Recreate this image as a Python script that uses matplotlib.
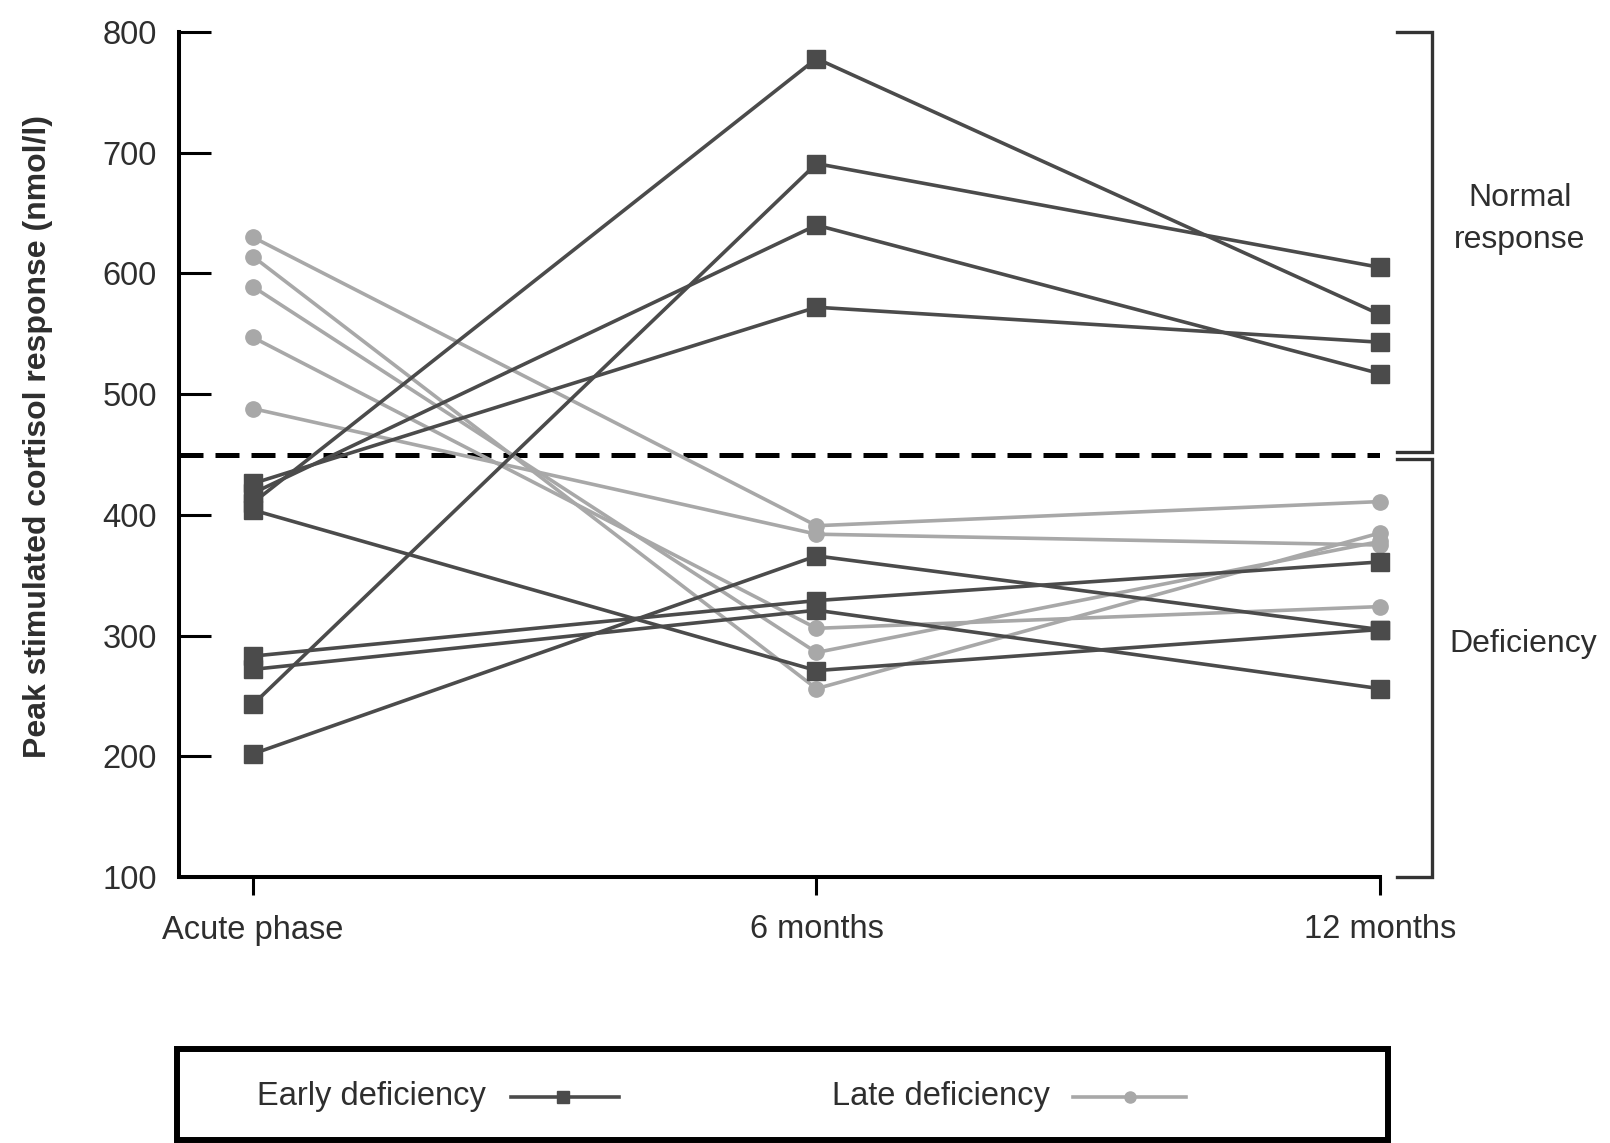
import matplotlib
matplotlib.use("Agg")
import matplotlib.pyplot as plt
from matplotlib.lines import Line2D
from matplotlib.patches import Rectangle
import matplotlib.transforms as mtransforms

plt.rcParams['font.family'] = ['Liberation Sans', 'DejaVu Sans']

# time points and cut-off
timepoints = ['Acute phase', '6 months', '12 months']
cutoff = 450

# peak stimulated cortisol (nmol/l) per patient: acute, 6 months, 12 months
early = [
    [410, 778, 566],
    [243, 691, 605],
    [418, 640, 517],
    [426, 572, 543],
    [404, 271, 305],
    [202, 366, 305],
    [283, 329, 361],
    [272, 321, 256],
]
late = [
    [630, 391, 411],
    [488, 384, 375],
    [547, 306, 324],
    [589, 286, 378],
    [614, 256, 385],
]

dark = '#4b4b4b'
light = '#a8a8a8'
txt = '#2e2e2e'

W, H = 1610, 1143
fig = plt.figure(figsize=(W / 100, H / 100), dpi=100)
ax = fig.add_axes([179 / W, 1 - 877 / H, (1380 - 179) / W, (877 - 32) / H])

x = range(len(timepoints))
for row in late:
    ax.plot(x, row, color=light, lw=2.6, marker='o', ms=11, clip_on=False, zorder=3)
for row in early:
    ax.plot(x, row, color=dark, lw=2.6, marker='s', ms=13, clip_on=False, zorder=4)

ax.axhline(cutoff, color='black', lw=3.6, dashes=(4.8, 2.4), zorder=2)

ax.set_xlim(-0.1313, 2.0)
ax.set_ylim(100, 800)
ax.set_xticks(list(x))
ax.set_xticklabels(timepoints)
ax.set_yticks(range(100, 801, 100))

for s in ['top', 'right']:
    ax.spines[s].set_visible(False)
for s in ['left', 'bottom']:
    ax.spines[s].set_linewidth(2.9)
    ax.spines[s].set_color('black')

ax.tick_params(axis='y', direction='in', length=23, width=2.2, pad=16,
               labelsize=23.5, labelcolor=txt)
ax.tick_params(axis='x', direction='out', length=13, width=2.2, pad=14,
               labelsize=23.5, labelcolor=txt)

fig.text(38 / W, 1 - 436 / H, 'Peak stimulated cortisol response (nmol/l)',
         rotation=90, ha='center', va='center', fontsize=23,
         weight='bold', color=txt)

# brackets on the right: x in figure pixels, y in data units
br = mtransforms.blended_transform_factory(fig.transFigure, ax.transData)
bx0, bx1 = 1397 / W, 1432 / W
for top, bottom in [(800, 452), (446, 100)]:
    ax.plot([bx0, bx1, bx1, bx0], [top, top, bottom, bottom], color='#333333',
            lw=2.4, transform=br, clip_on=False, solid_joinstyle='miter')

fig.text(1520 / W, 1 - 219 / H, 'Normal\nresponse', ha='center', va='center',
         fontsize=23, color=txt, linespacing=1.5)
fig.text(1523 / W, 1 - 644 / H, 'Deficiency', ha='center', va='center',
         fontsize=23, color=txt)

# legend box along the bottom edge
fig.patches.append(Rectangle((177 / W, 3 / H), (1388 - 177) / W, 91 / H,
                             transform=fig.transFigure, fill=False,
                             edgecolor='black', lw=4.3, zorder=5))
ly = 1 - 1097 / H
fig.text(257 / W, ly, 'Early deficiency', ha='left', va='center',
         fontsize=23.5, color=txt)
fig.text(832 / W, ly, 'Late deficiency', ha='left', va='center',
         fontsize=23.5, color=txt)
fig.lines.append(Line2D([511 / W, 619 / W], [ly, ly], color=dark, lw=2.6,
                        transform=fig.transFigure))
fig.lines.append(Line2D([563 / W], [ly], color=dark, marker='s', ms=9,
                        transform=fig.transFigure))
fig.lines.append(Line2D([1073 / W, 1186 / W], [ly, ly], color=light, lw=2.6,
                        transform=fig.transFigure))
fig.lines.append(Line2D([1130 / W], [ly], color=light, marker='o', ms=8,
                        transform=fig.transFigure))

fig.savefig('out.png', dpi=100, facecolor='white')
